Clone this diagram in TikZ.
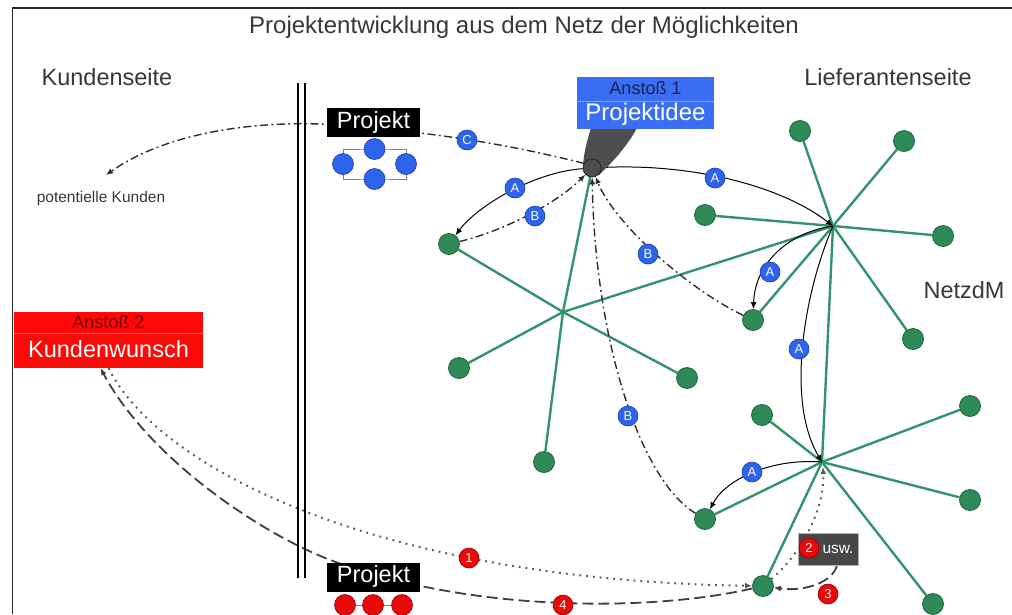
\documentclass[tikz,border=0pt]{standalone}
\usepackage{fontspec}
\setmainfont{Liberation Sans}
\usetikzlibrary{arrows.meta}
\definecolor{txt}{RGB}{55,55,55}
\definecolor{ngreen}{RGB}{46,139,87}
\definecolor{ngreendk}{RGB}{30,100,62}
\definecolor{lgreen}{RGB}{52,148,105}
\definecolor{iblue}{RGB}{58,110,245}
\definecolor{lblue}{RGB}{45,100,235}
\definecolor{lbluedk}{RGB}{25,60,170}
\definecolor{kred}{RGB}{255,8,8}
\definecolor{nred}{RGB}{232,10,10}
\definecolor{nreddk}{RGB}{150,0,0}
\definecolor{blobgray}{RGB}{78,78,78}
\definecolor{navy}{RGB}{30,35,80}
\definecolor{dred}{RGB}{115,0,0}
\definecolor{uswgray}{RGB}{72,72,72}
\newcommand\txtbig{\fontsize{23.5}{28}\selectfont}
\newcommand\txtmid{\fontsize{18}{21}\selectfont}
\newcommand\txtsmall{\fontsize{15.5}{18}\selectfont}
\newcommand\txtlab{\fontsize{13}{14}\selectfont}
\pgfdeclarelayer{bg}
\pgfsetlayers{bg,main}
\begin{document}
\begin{tikzpicture}[x=1pt,y=-1pt,
  gnode/.style={circle, fill=ngreen, draw=ngreendk, line width=0.8pt, minimum size=21pt, inner sep=0pt},
  spoke/.style={lgreen, line width=2.4pt},
  alab/.style={circle, fill=lblue, draw=lbluedk, line width=0.6pt, minimum size=20pt, inner sep=0pt, text=white, font=\txtlab},
  rlab/.style={circle, fill=nred, draw=nreddk, line width=0.6pt, minimum size=20pt, inner sep=0pt, text=white, font=\txtlab},
  bdot/.style={circle, fill=lblue, draw=lbluedk, line width=0.6pt, minimum size=21pt, inner sep=0pt},
  rdot/.style={circle, fill=nred, draw=nreddk, line width=0.6pt, minimum size=21pt, inner sep=0pt},
  arrowend/.style={-{Latex[length=7pt,width=6pt]}},
  solidarr/.style={arrowend, black, line width=1pt},
  ddarr/.style={arrowend, black!82, line width=1.4pt, dash pattern=on 8pt off 3.5pt on 1.8pt off 3.5pt},
  dotarr/.style={arrowend, black!65, line width=2pt, dash pattern=on 1.8pt off 5pt},
  dasharr/.style={arrowend, black!75, line width=1.8pt, dash pattern=on 11pt off 5pt},
  projbox/.style={rectangle, fill=black, text=white, font=\txtbig, minimum width=93pt, inner sep=0pt, text height=20pt, text depth=9pt},
  heading/.style={anchor=base, text=txt, font=\txtbig}
]
\useasboundingbox (0,0) rectangle (1012,614);
\begin{pgfonlayer}{bg}
\fill[white] (0,0) rectangle (1012,614);
\end{pgfonlayer}

% frame
\draw[line width=1.6pt, black!85] (12.5,614) -- (12.5,8) -- (1012,8);

% headings
\node[heading, font=\fontsize{24}{28}\selectfont] (title) at (524,33) {Projektentwicklung aus dem Netz der Möglichkeiten};
\node[heading] (kseite) at (107,85) {Kundenseite};
\node[heading] (lseite) at (888,85) {Lieferantenseite};
\node[heading, anchor=base west] (netz) at (920,298) {NetzdM};
\node[anchor=base, text=txt, font=\txtsmall] (pk) at (101,202) {potentielle Kunden};
\coordinate (pktip) at (106,175);

% double line
\draw[line width=1.3pt] (298,83) -- (298,578);
\draw[line width=1.3pt] (305,83) -- (305,578);

% blob and idea box
\fill[blobgray] (583,166) .. controls (584,150) and (588,138) .. (591,128) -- (637,128) .. controls (628,145) and (612,163) .. (599,175) -- cycle;
\node[rectangle, fill=iblue, minimum width=137pt, minimum height=52pt, inner sep=0pt] (idee) at (645.5,103) {};
\draw[iblue!65!white, line width=0.6pt] (577,101) -- (714,101);
\node[anchor=base, text=navy, font=\txtmid] (a1) at (645.5,94) {Anstoß 1};
\node[anchor=base, text=white, font=\fontsize{24}{28}\selectfont] (pidee) at (645.5,120) {Projektidee};
\node[circle, fill=blobgray, draw=black!85, line width=0.8pt, minimum size=18pt, inner sep=0pt] (hub) at (592,168) {};

% customer wish box
\node[rectangle, fill=kred, minimum width=189pt, minimum height=56pt, inner sep=0pt] (kw) at (108.5,340) {};
\draw[red!60!white, line width=0.6pt] (14,333) -- (203,333);
\node[anchor=base, text=dred, font=\txtmid] (a2) at (108.5,328) {Anstoß 2};
\node[anchor=base, text=white, font=\txtbig] (kwt) at (108.5,357) {Kundenwunsch};

% project boxes
\node[projbox] (projtop) at (373.5,122.5) {Projekt};
\node[projbox] (projbot) at (373.5,577) {Projekt};

\node[bdot] (bdl) at (343,164) {};
\node[bdot] (bdt) at (374.5,149) {};
\node[bdot] (bdr) at (406,164) {};
\node[bdot] (bdb) at (374.5,179) {};
\node[rdot] (rd1) at (345,605) {};
\node[rdot] (rd2) at (373,605) {};
\node[rdot] (rd3) at (402,605) {};

% star centres
\coordinate (s1) at (563,312);
\coordinate (s2) at (833,226);
\coordinate (s3) at (822,462);
\coordinate (s3low) at (823,467);

% green nodes
\node[gnode] (g1a) at (449,244) {};
\node[gnode] (g1b) at (459,368) {};
\node[gnode] (g1c) at (687,378) {};
\node[gnode] (g1d) at (544,462) {};
\node[gnode] (g2a) at (800,131) {};
\node[gnode] (g2b) at (904,141) {};
\node[gnode] (g2c) at (705,215) {};
\node[gnode] (g2d) at (943,236) {};
\node[gnode] (g2e) at (753,320) {};
\node[gnode] (g2f) at (913,339) {};
\node[gnode] (g3a) at (762,415) {};
\node[gnode] (g3b) at (970,406) {};
\node[gnode] (g3c) at (970,500) {};
\node[gnode] (g3d) at (933,604) {};
\node[gnode] (g3e) at (705,519) {};
\node[gnode] (g3f) at (763,586) {};

% usw box
\node[rectangle, fill=uswgray, draw=gray!60, line width=0.5pt, minimum width=60pt, minimum height=32pt, inner sep=0pt] (usw) at (828,549) {};
\node[rlab] (n2) at (809,548) {2};
\node[anchor=base, text=white, font=\txtsmall] (uswt) at (838,553) {usw.};

% labels
\node[alab] (la1) at (515,188) {A};
\node[alab] (la2) at (715,178) {A};
\node[alab] (la3) at (770,272) {A};
\node[alab] (la4) at (799,349) {A};
\node[alab] (la5) at (752,472) {A};
\node[alab] (lb1) at (535,216) {B};
\node[alab] (lb2) at (648,254) {B};
\node[alab] (lb3) at (628,416) {B};
\node[alab] (lc) at (467,140) {C};
\node[rlab] (n1) at (469,558) {1};
\node[rlab] (n3) at (828,594) {3};
\node[rlab] (n4) at (563,605) {4};

\begin{pgfonlayer}{bg}
  % small project graphs
  \draw[gray, line width=1pt] (bdl.center) |- (bdt.center) -| (bdr.center) |- (bdb.center) -| (bdl.center);
  \draw[gray, line width=1pt] (rd1) -- (rd2) -- (rd3);
  % green network
  \foreach \g in {g1a,g1b,g1c,g1d,hub,s2} \draw[spoke] (s1) -- (\g);
  \foreach \g in {g2a,g2b,g2c,g2d,g2e,g2f,s3} \draw[spoke] (s2) -- (\g);
  \foreach \g in {g3a,g3b,g3c,g3d,g3e,g3f} \draw[spoke] (s3) -- (\g);
  % C
  \draw[ddarr] (hub.150) .. controls (530,150) and (450,132) .. (320,124) .. controls (260,122) and (170,130) .. (pktip);
  % B
  \draw[ddarr] (g1a) .. controls (500,232) and (555,205) .. (hub);
  \draw[ddarr] (g2e) .. controls (690,290) and (615,225) .. (hub);
  \draw[ddarr] (g3e) .. controls (640,480) and (595,340) .. (hub);
  % A
  \draw[solidarr] (hub) .. controls (535,172) and (478,205) .. (g1a);
  \draw[solidarr] (hub) .. controls (690,163) and (780,185) .. (s2);
  \draw[solidarr] (s2) .. controls (790,232) and (755,262) .. (g2e);
  \draw[solidarr] (s2) .. controls (805,290) and (785,400) .. (s3);
  \draw[solidarr] (s3) .. controls (770,458) and (725,480) .. (g3e);
  % 1 - 4
  \draw[dotarr] (kw.south) .. controls (160,470) and (380,580) .. (g3f);
  \draw[dotarr] (g3f) .. controls (800,555) and (825,510) .. (s3low);
  \draw[dasharr] ([xshift=9pt]usw.south) .. controls (833,582) and (805,592) .. (g3f);
  \draw[dasharr] (g3f) .. controls (650,612) and (470,612) .. (333,561) .. controls (263,535) and (150,460) .. ([xshift=-8pt]kw.south);
\end{pgfonlayer}
\end{tikzpicture}
\end{document}
